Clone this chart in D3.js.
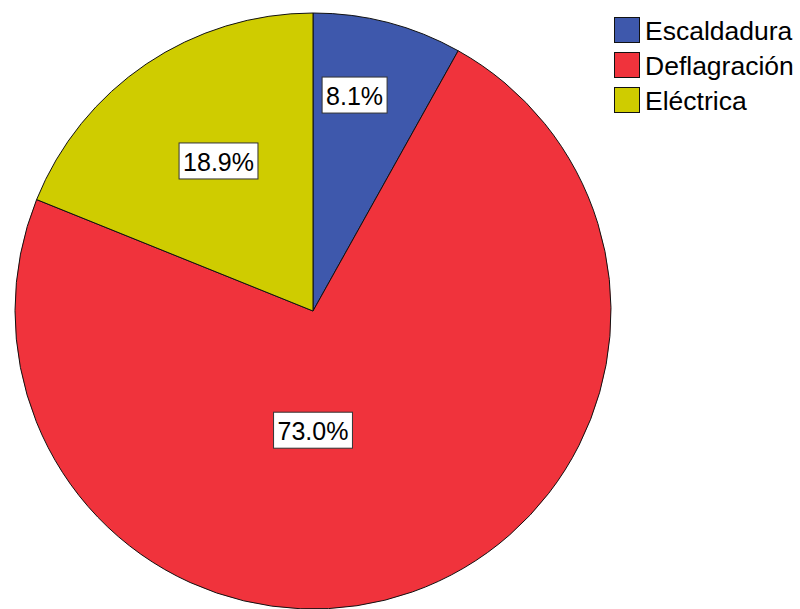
<!DOCTYPE html>
<html>
<head>
<meta charset="utf-8">
<script src="https://cdn.jsdelivr.net/npm/d3@7"></script>
<style>
  html, body { margin: 0; padding: 0; background: #fff; }
  svg { display: block; font-family: "Liberation Sans", Arial, sans-serif; }
</style>
</head>
<body>
<script>
// Burn type distribution (percent of cases)
const categories = ["Escaldadura", "Deflagración", "Eléctrica"];
const percents = [8.1, 73.0, 18.9];
const colors = ["#3E58AC", "#F0333C", "#CFCC00"];

// Label placement inside each slice: angle (degrees clockwise from 12 o'clock) and radius fraction
const labelAngles = [10.9, 180, 327.8];
const labelRadii = [0.738, 0.40, 0.595];

const width = 800, height = 609;
const cx = 313, cy = 311, radius = 298;

const svg = d3.select("body").append("svg")
  .attr("width", width).attr("height", height);

const data = categories.map((c, i) => ({ name: c, value: percents[i], color: colors[i] }));

const pie = d3.pie().value(d => d.value).sort(null);
const arc = d3.arc().innerRadius(0).outerRadius(radius);

const g = svg.append("g").attr("transform", `translate(${cx},${cy})`);

const arcs = pie(data);

g.selectAll("path.slice")
  .data(arcs)
  .join("path")
  .attr("class", "slice")
  .attr("d", arc)
  .attr("fill", d => d.data.color)
  .attr("stroke", "#111")
  .attr("stroke-width", 1);

// Percentage labels in white boxes
const fmt = d3.format(".1f");
const labels = g.selectAll("g.label")
  .data(arcs)
  .join("g")
  .attr("class", "label")
  .attr("transform", (d, i) => {
    const a = labelAngles[i] * Math.PI / 180;
    const r = labelRadii[i] * radius;
    return `translate(${r * Math.sin(a)},${-r * Math.cos(a)})`;
  });

labels.each(function(d) {
  const lg = d3.select(this);
  const t = lg.append("text")
    .attr("text-anchor", "middle")
    .attr("dominant-baseline", "central")
    .attr("font-size", 25)
    .attr("fill", "#000")
    .text(fmt(d.data.value) + "%");
  const bb = t.node().getBBox();
  lg.insert("rect", "text")
    .attr("x", bb.x - 4)
    .attr("y", -18)
    .attr("width", bb.width + 8)
    .attr("height", 36)
    .attr("fill", "#fff")
    .attr("stroke", "#333")
    .attr("stroke-width", 1);
  t.attr("y", 1);
});

// Legend
const legend = svg.append("g").attr("transform", "translate(614,17)");
const items = legend.selectAll("g.item")
  .data(data)
  .join("g")
  .attr("class", "item")
  .attr("transform", (d, i) => `translate(0,${i * 35})`);

items.append("rect")
  .attr("x", 0.5).attr("y", 0.5)
  .attr("width", 25).attr("height", 25)
  .attr("fill", d => d.color)
  .attr("stroke", "#111")
  .attr("stroke-width", 1);

items.append("text")
  .attr("x", 31)
  .attr("y", 14)
  .attr("dominant-baseline", "central")
  .attr("font-size", 26.5)
  .attr("fill", "#000")
  .text(d => d.name);
</script>
</body>
</html>
